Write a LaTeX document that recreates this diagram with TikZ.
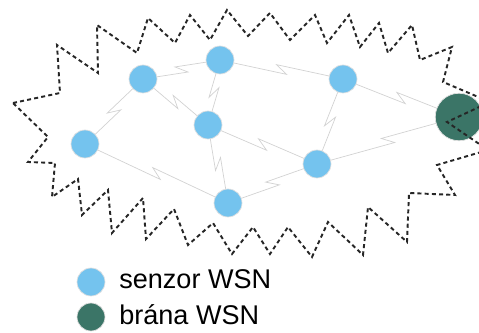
\documentclass[tikz,border=0pt]{standalone}
\usepackage{fontspec}
\setmainfont{Liberation Sans}
\usetikzlibrary{calc}

\definecolor{sensorblue}{HTML}{74C3EE}
\definecolor{gatewaygreen}{HTML}{3B7567}
\definecolor{linkgray}{HTML}{D2D2D2}

\tikzset{
  sensor/.style={circle, fill=sensorblue, draw=black!12, line width=0.4pt, minimum size=0.56cm, inner sep=0pt},
  gateway/.style={circle, fill=gatewaygreen, draw=black!12, line width=0.4pt, minimum size=0.95cm, inner sep=0pt},
  link/.style={draw=linkgray, line width=0.4pt,
    to path={-- ($(\tikztostart)!0.5!(\tikztotarget)!4pt!-35:(\tikztotarget)$)
             -- ($(\tikztostart)!0.5!(\tikztotarget)!4pt!145:(\tikztotarget)$)
             -- (\tikztotarget)}},
  border/.style={draw=black!85, line width=1.1pt, dash pattern=on 2.3pt off 1.8pt},
  legend/.style={anchor=base west, inner sep=0pt, font=\fontsize{15.4}{18}\selectfont}
}

\begin{document}
\begin{tikzpicture}[x=0.02cm, y=-0.02cm]
    \clip (0,0) rectangle (479,333);
    % Sensor nodes
    \node[sensor] (s1) at (143,79) {};
    \node[sensor] (s2) at (220,60) {};
    \node[sensor] (s3) at (343,79) {};
    \node[sensor] (s4) at (85,144) {};
    \node[sensor] (s5) at (208,125) {};
    \node[sensor] (s6) at (317,164) {};
    \node[sensor] (s7) at (228,203) {};
    % Gateway
    \node[gateway] (gw) at (459,117) {};
    % Radio links
    \foreach \a/\b in {s1/s2, s2/s3, s3/gw, s4/s1, s1/s5, s2/s5, s5/s6,
                       s5/s7, s4/s7, s7/s6, s6/s3, s6/gw}
        \draw[link] (\a) to (\b);
    % Network border
    \draw[border] (13,103) -- (60,93) -- (57,45) -- (98,73) -- (97,25)
        -- (137,53) -- (148,18) -- (175,43) -- (190,15) -- (210,40)
        -- (227,10) -- (248,36) -- (270,13) -- (290,40) -- (315,15)
        -- (327,43) -- (349,15) -- (360,47) -- (379,23) -- (388,53)
        -- (412,25) -- (420,60) -- (452,47) -- (443,82) -- (490,102)
        -- (447,122) -- (488,150) -- (437,165) -- (455,195) -- (409,193)
        -- (407,242) -- (368,207) -- (363,255) -- (328,222) -- (312,257)
        -- (288,227) -- (270,254) -- (253,227) -- (232,254) -- (213,223)
        -- (188,245) -- (174,209) -- (146,239) -- (143,198) -- (112,233)
        -- (108,190) -- (82,215) -- (78,179) -- (52,197) -- (55,163)
        -- (28,162) -- (48,137) -- cycle;
    % Legend
    \node[sensor] (key1) at (91,282) {};
    \node[gateway, minimum size=0.56cm] (key2) at (91,317) {};
    \node[legend] (txt1) at (119,289) {senzor WSN};
    \node[legend] (txt2) at (119,325) {brána WSN};
\end{tikzpicture}
\end{document}
